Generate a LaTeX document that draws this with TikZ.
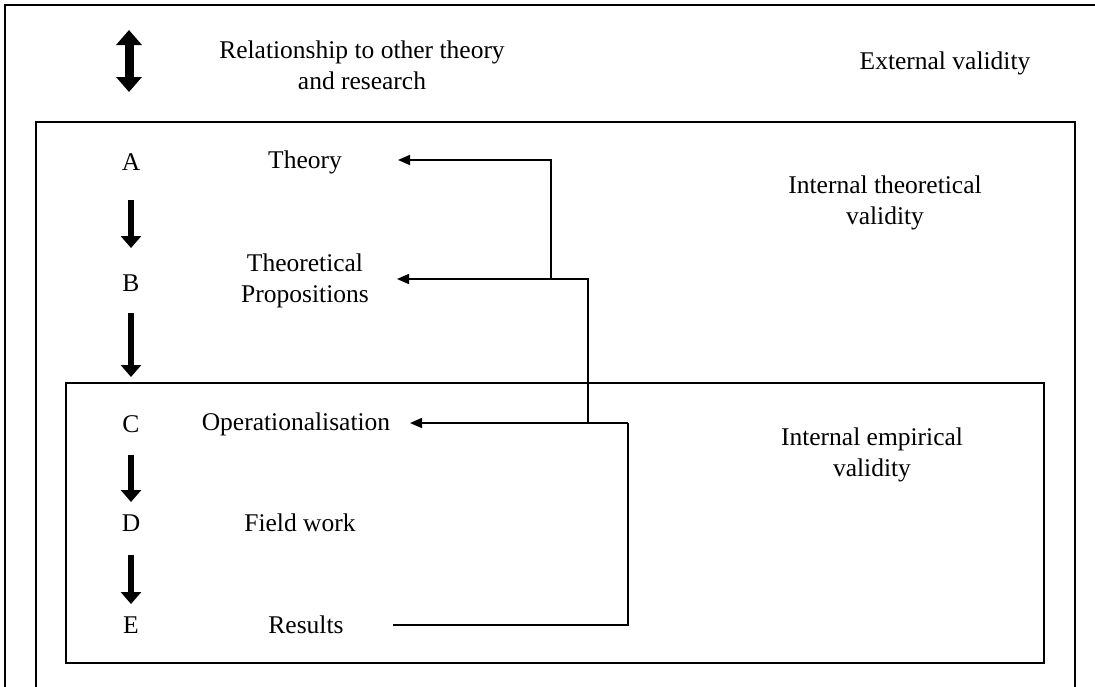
\documentclass[tikz,border=0pt]{standalone}
\usepackage{fontspec}
\setmainfont{Liberation Serif}
\usetikzlibrary{arrows.meta}
\begin{document}
\begin{tikzpicture}[x=1pt,y=-1pt,
  lbl/.style={font=\fontsize{25.5}{31}\selectfont, align=center, inner sep=0pt},
  frame/.style={line width=2pt},
  wire/.style={line width=1.6pt},
  conn/.style={line width=1.6pt, -{Triangle[width=10pt,length=12pt]}},
  bigdown/.style={line width=6.5pt, -{Triangle[width=20pt,length=12pt]}},
  bigboth/.style={line width=9pt, {Triangle[width=25pt,length=15pt]}-{Triangle[width=25pt,length=15pt]}}]
\useasboundingbox (0,0) rectangle (1095,686);

% frames: outer, theoretical, empirical
\draw[frame] (5,700) -- (5,5) -- (1100,5);
\draw[frame] (36,700) -- (36,122) -- (1075,122) -- (1075,700);
\draw[frame] (66,383) rectangle (1044,663);

% headings
\node[lbl] (rel) at (362,65) {Relationship to other theory\\and research};
\node[lbl] (ext) at (945,63) {External validity};
\node[lbl] (itv) at (885,203) {Internal theoretical\\validity};
\node[lbl] (iev) at (872,455) {Internal empirical\\validity};

% stage letters
\node[lbl] (A) at (131,162) {A};
\node[lbl] (B) at (131,283) {B};
\node[lbl] (C) at (131,424) {C};
\node[lbl] (D) at (131,523) {D};
\node[lbl] (E) at (131,625) {E};

% stage names
\node[lbl] (t) at (305,162) {Theory};
\node[lbl] (p) at (305,281) {Theoretical\\Propositions};
\node[lbl] (o) at (296,424) {Operationalisation};
\node[lbl] (f) at (300,523) {Field work};
\node[lbl] (r) at (306,625) {Results};

% big arrows between stages
\draw[bigboth] (129,30) -- (129,92);
\draw[bigdown] (131,200) -- (131,248);
\draw[bigdown] (131,313) -- (131,377);
\draw[bigdown] (131,455) -- (131,502);
\draw[bigdown] (131,555) -- (131,604);

% feedback loop from the results
\coordinate (tT) at (398,160);
\coordinate (tP) at (397,279);
\coordinate (tO) at (410,423);
\coordinate (rs) at (393,625);
\coordinate (k1) at (628,625);
\coordinate (k2) at (628,423);
\coordinate (j2) at (588,423);
\coordinate (j1) at (551,279);
\draw[wire] (rs) -- (k1) -- (k2);
\draw[conn] (k2) -- (tO);
\draw[conn] (j2) |- (tP);
\draw[conn] (j1) |- (tT);
\end{tikzpicture}
\end{document}
